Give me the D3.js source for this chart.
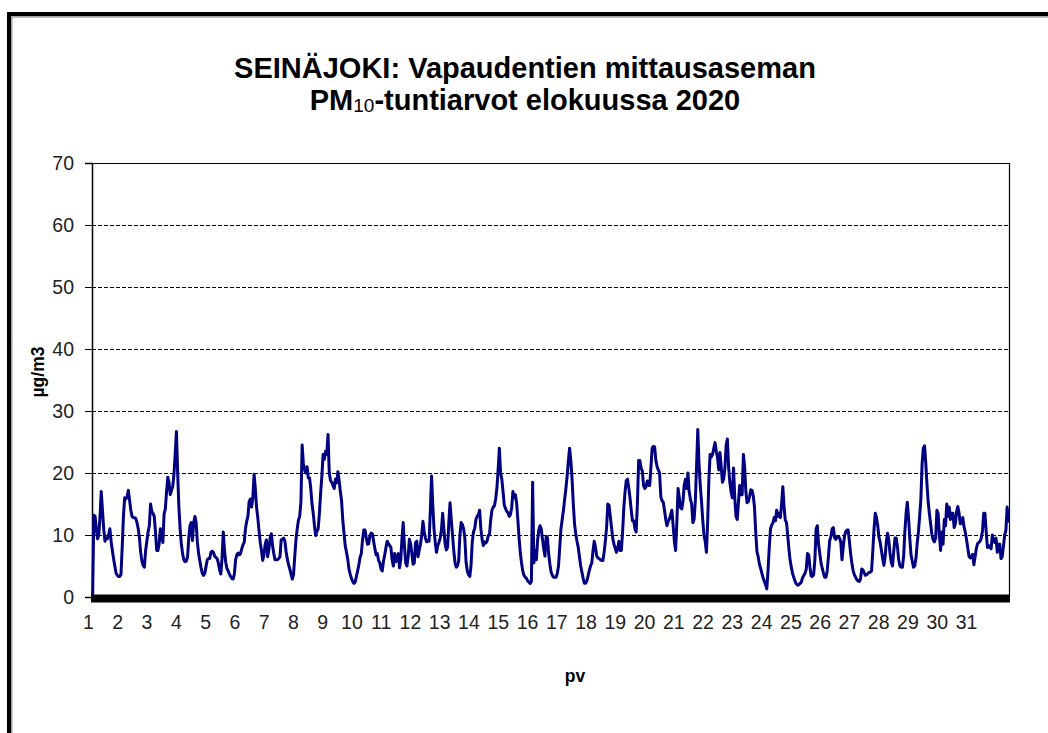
<!DOCTYPE html>
<html>
<head>
<meta charset="utf-8">
<script src="https://cdn.jsdelivr.net/npm/d3@7"></script>
<style>
  html, body { margin: 0; padding: 0; background: #fff; }
  svg { display: block; font-family: "Liberation Sans", Arial, sans-serif; }
</style>
</head>
<body>
<svg id="chart" width="1048" height="733"></svg>
<script>
// ---- DATA (hourly PM10, µg/m3, August 2020; 24 values per day) ----
const day01 = [0, 13.2, 13, 11, 9.4, 10, 13, 17, 14, 11, 9, 9.5, 9.4, 10, 11, 9, 7.5, 6.2, 5, 3.9, 3.5, 3.3, 3.3, 3.6];
const day02 = [8, 13, 16, 15.8, 16.2, 17.2, 15.6, 14, 13, 12.8, 12.8, 12.7, 12, 11, 9.5, 7.2, 5.8, 5.1, 4.8, 7.5, 9, 10.5, 11.5, 15];
const day03 = [13.8, 13.5, 13, 10.5, 7.5, 7.5, 8.6, 11, 10, 8.8, 13.4, 14.2, 17, 19.3, 18.5, 16.5, 17.2, 17.8, 19.8, 23, 26.7, 20, 14.5, 11];
const day04 = [8.5, 7, 6, 5.7, 5.8, 6.4, 9.5, 11.5, 12, 9.1, 12, 13, 12, 8.8, 7, 5.8, 4.7, 3.8, 3.5, 3.8, 4.9, 6, 6.2, 6.2];
const day05 = [7.2, 7.4, 7.2, 6.6, 6.4, 6.2, 5.5, 4.4, 3.7, 6.2, 10.5, 7.5, 5.6, 4.6, 4.2, 3.7, 3.3, 3, 2.9, 3.7, 6, 6.8, 7.1, 6.8];
const day06 = [7, 7.8, 8.4, 8.8, 11, 12.2, 13, 15.4, 15.8, 14.5, 16, 19.8, 17.5, 14.5, 12.8, 10.7, 8.8, 7.5, 5.9, 6.8, 8.5, 9.2, 6.5, 7.6];
const day07 = [9.5, 10.2, 8.3, 7, 6, 6, 6, 6.2, 6.5, 9.2, 9.3, 9.5, 9, 7.3, 6.1, 5.2, 4.5, 3.7, 2.9, 3.6, 6.5, 9.3, 11, 12.4];
const day08 = [13, 15.3, 24.5, 21.5, 20.5, 20, 21, 19.2, 19.2, 17.5, 15, 13.5, 11.5, 9.9, 10.6, 11, 13.5, 16.8, 19.5, 23, 22.2, 23.5, 23, 26.2];
const day09 = [20, 18.8, 18.5, 18, 17.5, 19, 18.4, 20.2, 18.8, 17, 15.5, 12.3, 10.2, 8.2, 7.2, 6.1, 4.5, 3.7, 3, 2.5, 2.2, 2.4, 3.3, 4.2];
const day10 = [5.2, 6.4, 7, 9.2, 10.8, 10.8, 9.6, 8.5, 8.6, 9.9, 10.3, 10.2, 9, 7.8, 6.8, 7, 5.9, 5.5, 4.5, 4.2, 5.8, 6.8, 8, 9];
const day11 = [8.6, 8.3, 8, 6, 5, 7, 5.7, 6.5, 7, 4.7, 6, 9.5, 12, 8.2, 5.5, 5, 6.5, 9.3, 8.6, 7, 5.3, 5.5, 8.8, 9];
const day12 = [6.5, 7.6, 8.5, 10, 12.2, 10.6, 9.5, 8.9, 9.1, 9, 14, 19.5, 14.8, 11, 8.8, 7.2, 8.3, 8.8, 9.5, 10.8, 13.5, 11, 8.5, 7.6];
const day13 = [8, 12, 15.2, 12.5, 10, 7.5, 5.6, 4.8, 5, 5.8, 10, 12, 11.7, 11, 9.5, 5.6, 4.2, 3.6, 3.3, 5, 8.8, 10.5, 11, 12.5];
const day14 = [13, 13.3, 14, 11, 9.3, 8.3, 8.9, 8.7, 9, 9.9, 10.1, 12.5, 14, 14.5, 14.7, 15.8, 17.5, 20.5, 24, 20, 19, 17, 14.8, 14.3];
const day15 = [13.8, 13.6, 13, 13.3, 14.4, 17, 16, 16.5, 15.2, 12.5, 9.5, 7.2, 5.5, 4.2, 3.5, 3.2, 3, 2.6, 2.4, 2.2, 2.5, 18.5, 5.5, 7.5];
const day16 = [6, 9.1, 10.8, 11.5, 11, 9.3, 7.8, 6.6, 9.8, 9.6, 7, 5.3, 4, 3.5, 3.2, 3.2, 3.2, 3.8, 5, 8, 11, 12.5, 14, 15.8];
const day17 = [17.5, 19.5, 22, 24, 22, 19, 15, 11.8, 10.2, 9, 8, 6.5, 5, 4, 3, 2.2, 2.2, 2.6, 3.4, 4.3, 5, 5.5, 7.5, 9];
const day18 = [8, 6.6, 6.3, 6.2, 6, 5.9, 5.9, 7.2, 9, 11.2, 15, 14.8, 13, 11.2, 9.5, 8.5, 7.9, 7.2, 7.8, 9, 7.5, 7.5, 10.5, 14.4];
const day19 = [17, 18.8, 19, 17.6, 16, 14, 12.3, 12.3, 11, 10.5, 15, 22, 22, 20.8, 20.3, 18, 17.5, 17.8, 18.7, 18, 18, 21, 24, 24.3];
const day20 = [24.2, 22, 21, 20.5, 20, 16.2, 15.5, 15.3, 14, 12.5, 11.5, 12.2, 12.6, 13.3, 14, 11.5, 9, 7.5, 12, 17.5, 16, 14.4, 14.2, 15.5];
const day21 = [18, 19, 17.5, 20, 17, 15.8, 15, 12, 12.5, 15.5, 21, 27, 21.5, 18, 15.5, 12.5, 10, 9, 7.2, 12, 19, 23, 22.6, 23];
const day22 = [24, 24.9, 23.5, 22.5, 20.5, 23.3, 21, 18.5, 19, 20.8, 24.5, 25.5, 21, 18.5, 17, 16, 20.8, 16, 13, 12.5, 15.3, 18, 16.5, 16.5];
const day23 = [23, 21, 17, 15.2, 15.4, 16.2, 17.3, 17.2, 16.3, 14.5, 10.5, 7.3, 6.5, 5.3, 4.6, 3.8, 3.1, 2.5, 2, 1.3, 4.3, 8, 11, 11.6];
const day24 = [12, 12.8, 12.3, 14, 13, 13.5, 12.8, 15, 17.8, 14.5, 12.4, 12, 9.8, 7.6, 5.8, 4.7, 3.7, 3.1, 2.5, 2.1, 1.9, 2, 2.2, 2.4];
const day25 = [3.1, 3.5, 3.8, 4.5, 7, 6.8, 4.8, 3.4, 3.3, 3.6, 6, 11, 11.5, 8.5, 7, 5.5, 4.6, 3.8, 3.2, 3.2, 4.2, 6.5, 9.1, 9.7];
const day26 = [11, 11.2, 9.6, 9.3, 9.7, 9.8, 9.5, 8.9, 6, 8, 9.8, 10.5, 10.8, 10.8, 9, 7, 5.5, 4.3, 3.6, 3.2, 2.8, 2.6, 2.5, 2.9];
const day27 = [4.5, 4.4, 3.9, 3.5, 3.6, 3.8, 4, 4, 4.2, 7.5, 11, 13.5, 12.8, 11.5, 9.6, 8.8, 7.5, 6.2, 5.1, 6.5, 9, 10.3, 9.1, 7];
const day28 = [5.6, 5, 7.4, 9.5, 9.5, 8.1, 6, 5, 4.8, 4.8, 6.5, 10.5, 13.5, 15.3, 12.8, 9.5, 6.8, 5.8, 4.8, 5, 6.2, 8.6, 10.5, 13];
const day29 = [15.8, 21.5, 24, 24.4, 21.5, 18, 15.2, 13.3, 11.7, 10, 9.2, 8.9, 9.5, 14, 13.5, 10, 7.5, 10.5, 8.5, 12.5, 11.5, 15, 13, 14.5];
const day30 = [12.5, 13.5, 13.5, 11.2, 11.8, 13.8, 14.6, 13.5, 11.8, 12, 12.8, 11.3, 10.5, 9.3, 8, 6.6, 6.3, 6.5, 6.9, 5.2, 6.5, 7.8, 8.6, 8.8];
const day31 = [9, 9.5, 10.7, 13.5, 13.5, 10.5, 8, 8.3, 8, 7.8, 10, 9, 8.8, 9.5, 7.2, 8.5, 8.5, 6.2, 6.5, 8.2, 10, 10.8, 14.5, 12];

const dayLabels = ["1","2","3","4","5","6","7","8","9","10","11","12","13","14","15","16",
                   "17","18","19","20","21","22","23","24","25","26","27","28","29","30","31"];
const yTicks = [0, 10, 20, 30, 40, 50, 60, 70];
const titleLine1 = "SEINÄJOKI: Vapaudentien mittausaseman";
const titleLine2a = "PM";
const titleLine2sub = "10";
const titleLine2b = "-tuntiarvot elokuussa 2020";
const yTitle = "µg/m3";
const xTitle = "pv";

const days = [day01, day02, day03, day04, day05, day06, day07, day08, day09, day10,
              day11, day12, day13, day14, day15, day16, day17, day18, day19, day20,
              day21, day22, day23, day24, day25, day26, day27, day28, day29, day30, day31];
const values = days.flat();

// ---- LAYOUT ----
const W = 1048, H = 733;
const plot = { left: 92, right: 1009, top: 163, bottom: 597 };
const FONT = "'Liberation Sans', Arial, sans-serif";

const svg = d3.select("#chart");

// outer frame
svg.append("rect").attr("x", 9).attr("y", 14).attr("width", 1200).attr("height", 900)
  .attr("fill", "#fff").attr("stroke", "#000").attr("stroke-width", 4);
svg.append("path").attr("d", `M11.8,${H + 10} V16.8 H${W + 10}`)
  .attr("fill", "none").attr("stroke", "#888").attr("stroke-width", 1.2);

// scales
const x = d3.scalePoint().domain(d3.range(values.length)).range([plot.left, plot.right]).padding(0.5);
const y = d3.scaleLinear().domain([0, 70]).range([plot.bottom, plot.top]);
// category label axis (day labels as placed in the original chart)
const xDay = d3.scaleLinear().domain([1, 31]).range([88, 966]);

// gridlines
svg.append("g").selectAll("line").data(yTicks.filter(t => t > 0 && t < 70)).join("line")
  .attr("x1", plot.left).attr("x2", plot.right)
  .attr("y1", d => Math.round(y(d)) + 0.5).attr("y2", d => Math.round(y(d)) + 0.5)
  .attr("stroke", "#000").attr("stroke-width", 1).attr("stroke-dasharray", "4,2");

// plot border (top & right)
svg.append("path")
  .attr("d", `M${plot.left},${y(70) + 0.5} H${plot.right + 0.5} V${plot.bottom}`)
  .attr("fill", "none").attr("stroke", "#000").attr("stroke-width", 1.2);

// y axis
const yAxis = svg.append("g").attr("transform", `translate(${plot.left},0)`)
  .call(d3.axisLeft(y).tickValues(yTicks).tickSize(7).tickPadding(11));
yAxis.select(".domain").attr("stroke", "#000").attr("stroke-width", 1.5);
yAxis.selectAll(".tick line").attr("stroke", "#000");
yAxis.selectAll("text").attr("font-size", 19.5).attr("fill", "#222").attr("font-family", FONT);

// line
const line = d3.line().x((d, i) => x(i)).y(d => y(d));
svg.append("path").datum(values)
  .attr("d", line)
  .attr("fill", "none").attr("stroke", "#000080").attr("stroke-width", 3)
  .attr("stroke-linejoin", "round");

// thick x axis bar
svg.append("rect").attr("x", plot.left - 1).attr("y", plot.bottom - 2.5)
  .attr("width", plot.right - plot.left + 2).attr("height", 8).attr("fill", "#000");

// x axis labels
const xAxis = svg.append("g").attr("transform", `translate(0,${plot.bottom})`)
  .call(d3.axisBottom(xDay).tickValues(d3.range(1, 32)).tickSize(0).tickPadding(18)
        .tickFormat(d => dayLabels[d - 1]));
xAxis.select(".domain").remove();
xAxis.selectAll("text").attr("font-size", 19.5).attr("fill", "#222").attr("font-family", FONT);

// titles
svg.append("text").attr("x", 525).attr("y", 78)
  .attr("text-anchor", "middle").attr("font-size", 29).attr("font-weight", "bold")
  .attr("fill", "#000").text(titleLine1);
const t2 = svg.append("text").attr("x", 525).attr("y", 110)
  .attr("text-anchor", "middle").attr("font-size", 29).attr("font-weight", "bold").attr("fill", "#000");
t2.append("tspan").text(titleLine2a);
t2.append("tspan").attr("font-size", 19).attr("font-weight", "normal").attr("dy", 2).text(titleLine2sub);
t2.append("tspan").attr("dy", -2).text(titleLine2b);

svg.append("text").attr("transform", "translate(44,372) rotate(-90)")
  .attr("text-anchor", "middle").attr("font-size", 17.5).attr("font-weight", "bold").text(yTitle);
svg.append("text").attr("x", 575).attr("y", 682)
  .attr("text-anchor", "middle").attr("font-size", 17.5).attr("font-weight", "bold").text(xTitle);
</script>
</body>
</html>
